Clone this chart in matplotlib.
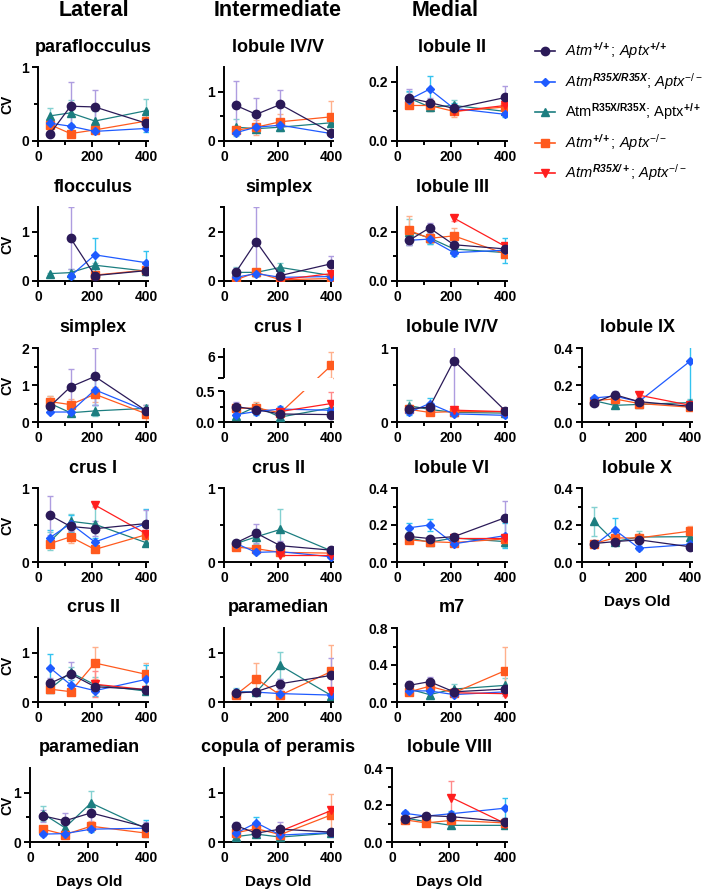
import numpy as np
import matplotlib
matplotlib.use("Agg")
import matplotlib.pyplot as plt
from matplotlib.lines import Line2D
from matplotlib.ticker import FixedLocator

plt.rcParams['font.family'] = ['Liberation Sans', 'DejaVu Sans']
plt.rcParams['mathtext.fontset'] = 'custom'
plt.rcParams['mathtext.rm'] = 'Liberation Sans:weight=normal'
plt.rcParams['mathtext.it'] = 'Liberation Sans:style=italic:weight=normal'
plt.rcParams['mathtext.bf'] = 'Liberation Sans:weight=bold'
plt.rcParams['mathtext.bfit'] = 'Liberation Sans:style=italic:weight=bold'

nan = np.nan
days = [45, 120, 210, 400]

genotypes = ['atm', 'aptx', 'dko', 'het', 'wt']  # draw order
legend_order = ['wt', 'dko', 'atm', 'aptx', 'het']
legend_labels = {
    'wt': r'$\mathit{Atm}^{\mathbfit{+/+}}$; $\mathit{Aptx}^{\mathbfit{+/+}}$',
    'dko': r'$\mathit{Atm}^{\mathbfit{R35X/R35X}}$; $\mathit{Aptx}^{\mathit{-/-}}$',
    'atm': r'Atm$^{\mathbf{R35X/R35X}}$; Aptx$^{\mathbf{+/+}}$',
    'aptx': r'$\mathit{Atm}^{\mathbfit{+/+}}$; $\mathit{Aptx}^{\mathit{-/-}}$',
    'het': r'$\mathit{Atm}^{\mathbfit{R35X/+}}$; $\mathit{Aptx}^{\mathit{-/-}}$',
}

# CV values and error bars, per genotype, keyed by panel
cv_wt = {
    'parafloc': [0.10, 0.47, 0.46, 0.24], 'floc': [nan, 0.87, 0.11, 0.21],
    'lat_simplex': [0.43, 0.95, 1.23, 0.30], 'lat_crus1': [0.63, 0.48, 0.45, 0.52],
    'lat_crus2': [0.38, 0.57, 0.31, 0.25], 'lat_paramed': [0.53, 0.43, 0.59, 0.30],
    'int_lob45': [0.72, 0.54, 0.74, 0.17], 'int_simplex': [0.37, 1.60, 0.22, 0.70],
    'int_crus1': [0.25, 0.20, 0.13, 0.12], 'int_crus2': [0.26, 0.39, 0.22, 0.16],
    'int_paramed': [0.18, 0.21, 0.37, 0.54], 'copula': [0.33, 0.18, 0.26, 0.20],
    'lob2': [0.145, 0.130, 0.110, 0.147], 'lob3': [0.165, 0.215, 0.147, 0.130],
    'med_lob45': [0.18, 0.20, 0.83, 0.15], 'lob6': [0.138, 0.127, 0.137, 0.240],
    'm7': [0.18, 0.22, 0.11, 0.14], 'lob8': [0.122, 0.143, 0.137, 0.110],
    'lob9': [0.105, 0.148, 0.110, 0.085], 'lob10': [0.100, 0.110, 0.120, 0.082],
}
err_wt = {
    'parafloc': [0.02, 0.33, 0.23, 0.05], 'floc': [nan, 0.63, 0.02, 0.05],
    'lat_simplex': [0.10, 0.48, 0.77, 0.15], 'lat_crus1': [0.26, 0.06, 0.10, 0.18],
    'lat_crus2': [0.10, 0.25, 0.10, 0.05], 'lat_paramed': [0.12, 0.16, 0.20, 0.10],
    'int_lob45': [0.49, 0.34, 0.30, 0.05], 'int_simplex': [0.15, 1.40, 0.10, 0.30],
    'int_crus1': [0.07, 0.05, 0.05, 0.03], 'int_crus2': [0.03, 0.13, 0.07, 0.03],
    'int_paramed': [0.05, 0.05, 0.10, 0.35], 'copula': [0.07, 0.05, 0.15, 0.05],
    'lob2': [0.030, 0.015, 0.010, 0.040], 'lob3': [0.020, 0.020, 0.015, 0.010],
    'med_lob45': [0.05, 0.05, 0.68, 0.02], 'lob6': [0.015, 0.010, 0.015, 0.090],
    'm7': [0.05, 0.05, 0.03, 0.03], 'lob8': [0.010, 0.015, 0.015, 0.020],
    'lob9': [0.010, 0.020, 0.015, 0.010], 'lob10': [0.010, 0.010, 0.020, 0.010],
}
cv_dko = {
    'parafloc': [0.24, 0.20, 0.13, 0.17], 'floc': [nan, 0.10, 0.53, 0.37],
    'lat_simplex': [0.27, 0.27, 0.87, 0.30], 'lat_crus1': [0.33, 0.52, 0.27, 0.52],
    'lat_crus2': [0.69, 0.35, 0.23, 0.46], 'lat_paramed': [0.16, 0.17, 0.26, 0.28],
    'int_lob45': [0.17, 0.28, 0.32, 0.15], 'int_simplex': [0.15, 0.30, 0.15, 0.18],
    'int_crus1': [0.12, 0.17, 0.21, 0.19], 'int_crus2': [0.25, 0.13, 0.14, 0.07],
    'int_paramed': [0.20, 0.20, 0.17, 0.14], 'copula': [0.18, 0.39, 0.14, 0.19],
    'lob2': [0.140, 0.175, 0.110, 0.090], 'lob3': [0.165, 0.170, 0.115, 0.125],
    'med_lob45': [0.13, 0.25, 0.11, 0.09], 'lob6': [0.185, 0.200, 0.098, 0.143],
    'm7': [0.12, 0.12, 0.08, 0.11], 'lob8': [0.155, 0.140, 0.153, 0.183],
    'lob9': [0.130, 0.140, 0.110, 0.330], 'lob10': [0.090, 0.175, 0.075, 0.095],
}
err_dko = {
    'parafloc': [0.03, 0.03, 0.02, 0.05], 'floc': [nan, 0.05, 0.35, 0.23],
    'lat_simplex': [0.03, 0.05, 0.40, 0.05], 'lat_crus1': [0.10, 0.12, 0.05, 0.20],
    'lat_crus2': [0.29, 0.10, 0.10, 0.30], 'lat_paramed': [0.03, 0.03, 0.05, 0.17],
    'int_lob45': [0.03, 0.05, 0.08, 0.03], 'int_simplex': [0.05, 0.10, 0.05, 0.05],
    'int_crus1': [0.03, 0.05, 0.05, 0.05], 'int_crus2': [0.03, 0.02, 0.02, 0.02],
    'int_paramed': [0.05, 0.05, 0.05, 0.05], 'copula': [0.03, 0.12, 0.03, 0.03],
    'lob2': [0.030, 0.045, 0.020, 0.010], 'lob3': [0.020, 0.020, 0.015, 0.050],
    'med_lob45': [0.03, 0.08, 0.02, 0.02], 'lob6': [0.025, 0.030, 0.010, 0.070],
    'm7': [0.02, 0.02, 0.02, 0.02], 'lob8': [0.015, 0.010, 0.015, 0.055],
    'lob9': [0.010, 0.020, 0.010, 0.210], 'lob10': [0.010, 0.065, 0.010, 0.010],
}
cv_atm = {
    'parafloc': [0.34, 0.38, 0.27, 0.41], 'floc': [0.15, 0.17, 0.32, 0.20],
    'lat_simplex': [0.50, 0.25, 0.30, 0.37], 'lat_crus1': [0.28, 0.55, 0.51, 0.26],
    'lat_crus2': [0.27, 0.60, 0.35, 0.22], 'lat_paramed': [0.57, 0.29, 0.79, 0.27],
    'int_lob45': [0.28, 0.25, 0.28, 0.37], 'int_simplex': [0.35, 0.35, 0.55, 0.22],
    'int_crus1': [0.10, 0.25, 0.08, 0.23], 'int_crus2': [0.25, 0.34, 0.44, 0.15],
    'int_paramed': [0.21, 0.20, 0.74, 0.13], 'copula': [0.11, 0.16, 0.10, 0.18],
    'lob2': [0.145, 0.115, 0.120, 0.100], 'lob3': [0.200, 0.175, 0.130, 0.115],
    'med_lob45': [0.22, 0.17, 0.13, 0.12], 'lob6': [0.130, 0.107, 0.130, 0.110],
    'm7': [0.14, 0.08, 0.14, 0.18], 'lob8': [0.130, 0.110, 0.090, 0.090],
    'lob9': [0.115, 0.090, 0.095, 0.105], 'lob10': [0.220, 0.110, 0.135, 0.137],
}
err_atm = {
    'parafloc': [0.10, 0.17, 0.13, 0.16], 'floc': [0.02, 0.08, 0.05, 0.05],
    'lat_simplex': [0.20, 0.05, 0.15, 0.10], 'lat_crus1': [0.12, 0.10, 0.25, 0.05],
    'lat_crus2': [0.05, 0.10, 0.15, 0.05], 'lat_paramed': [0.15, 0.10, 0.24, 0.10],
    'int_lob45': [0.17, 0.05, 0.07, 0.05], 'int_simplex': [0.20, 0.15, 0.20, 0.05],
    'int_crus1': [0.03, 0.05, 0.03, 0.08], 'int_crus2': [0.05, 0.10, 0.28, 0.03],
    'int_paramed': [0.08, 0.05, 0.28, 0.03], 'copula': [0.03, 0.03, 0.03, 0.03],
    'lob2': [0.020, 0.015, 0.020, 0.010], 'lob3': [0.050, 0.025, 0.010, 0.010],
    'med_lob45': [0.08, 0.03, 0.02, 0.02], 'lob6': [0.020, 0.010, 0.010, 0.030],
    'm7': [0.03, 0.02, 0.06, 0.08], 'lob8': [0.010, 0.010, 0.010, 0.010],
    'lob9': [0.010, 0.010, 0.010, 0.020], 'lob10': [0.080, 0.020, 0.030, 0.020],
}
cv_aptx = {
    'parafloc': [0.22, 0.10, 0.15, 0.27], 'floc': [nan, nan, 0.12, 0.22],
    'lat_simplex': [0.55, 0.47, 0.75, 0.22], 'lat_crus1': [0.25, 0.34, 0.17, 0.37],
    'lat_crus2': [0.26, 0.21, 0.79, 0.56], 'lat_paramed': [0.26, 0.15, 0.32, 0.18],
    'int_lob45': [0.22, 0.28, 0.39, 0.49], 'int_simplex': [0.05, 0.35, 0.05, 0.10],
    'int_crus1': [0.22, 0.23, 0.15, 5.60], 'int_crus2': [0.20, 0.18, 0.13, 0.12],
    'int_paramed': [0.15, 0.47, 0.14, 0.62], 'copula': [0.19, 0.27, 0.15, 0.55],
    'lob2': [0.120, 0.120, 0.100, 0.115], 'lob3': [0.205, 0.173, 0.183, 0.110],
    'med_lob45': [0.17, 0.13, 0.14, 0.14], 'lob6': [0.120, 0.110, 0.105, 0.125],
    'm7': [0.11, 0.17, 0.10, 0.34], 'lob8': [0.120, 0.103, 0.117, 0.103],
    'lob9': [0.115, 0.125, 0.100, 0.080], 'lob10': [0.100, 0.130, 0.130, 0.167],
}
err_aptx = {
    'parafloc': [0.03, 0.02, 0.02, 0.06], 'floc': [nan, nan, 0.02, 0.05],
    'lat_simplex': [0.15, 0.15, 0.20, 0.25], 'lat_crus1': [0.03, 0.08, 0.04, 0.05],
    'lat_crus2': [0.05, 0.03, 0.32, 0.23], 'lat_paramed': [0.07, 0.04, 0.10, 0.05],
    'int_lob45': [0.05, 0.15, 0.16, 0.32], 'int_simplex': [0.03, 0.10, 0.03, 0.05],
    'int_crus1': [0.05, 0.10, 0.05, 0.60], 'int_crus2': [0.03, 0.03, 0.03, 0.03],
    'int_paramed': [0.05, 0.32, 0.05, 0.53], 'copula': [0.03, 0.05, 0.05, 0.43],
    'lob2': [0.010, 0.020, 0.020, 0.015], 'lob3': [0.060, 0.020, 0.030, 0.010],
    'med_lob45': [0.03, 0.02, 0.02, 0.02], 'lob6': [0.010, 0.010, 0.010, 0.010],
    'm7': [0.02, 0.03, 0.02, 0.25], 'lob8': [0.010, 0.010, 0.010, 0.010],
    'lob9': [0.010, 0.010, 0.010, 0.010], 'lob10': [0.010, 0.020, 0.020, 0.030],
}
cv_het = {
    'lat_crus1': [nan, nan, 0.77, 0.38], 'lat_crus2': [nan, nan, 0.36, 0.25],
    'int_simplex': [nan, nan, 0.05, 0.30], 'int_crus1': [nan, nan, 0.17, 0.30],
    'int_crus2': [nan, nan, 0.10, 0.10], 'int_paramed': [nan, nan, nan, 0.22],
    'copula': [nan, nan, 0.22, 0.64], 'lob2': [nan, nan, 0.100, 0.120],
    'lob3': [nan, nan, 0.255, 0.140], 'med_lob45': [nan, nan, 0.16, 0.14],
    'lob6': [nan, nan, 0.13, 0.13], 'm7': [nan, nan, 0.10, 0.09],
    'lob8': [nan, nan, 0.24, 0.10], 'lob9': [nan, nan, 0.145, 0.090],
}
err_het = {
    'lat_crus1': [nan, nan, 0.03, 0.05], 'lat_crus2': [nan, nan, 0.26, 0.05],
    'int_simplex': [nan, nan, 0.05, 0.10], 'int_crus1': [nan, nan, 0.03, 0.18],
    'int_crus2': [nan, nan, 0.02, 0.02], 'int_paramed': [nan, nan, nan, 0.05],
    'copula': [nan, nan, 0.05, 0.05], 'lob2': [nan, nan, 0.010, 0.010],
    'lob3': [nan, nan, 0.010, 0.010], 'med_lob45': [nan, nan, 0.02, 0.02],
    'lob6': [nan, nan, 0.01, 0.01], 'm7': [nan, nan, 0.02, 0.02],
    'lob8': [nan, nan, 0.09, 0.01], 'lob9': [nan, nan, 0.01, 0.01],
}
cv = {'wt': cv_wt, 'dko': cv_dko, 'atm': cv_atm, 'aptx': cv_aptx, 'het': cv_het}
err = {'wt': err_wt, 'dko': err_dko, 'atm': err_atm, 'aptx': err_aptx, 'het': err_het}

styles = {
    'wt': dict(color='#2B1A58', marker='o', ms=6, ecolor='#AE9DE0'),
    'dko': dict(color='#1F5BFF', marker='D', ms=4.2, ecolor='#33C3F0'),
    'atm': dict(color='#1C7E80', marker='^', ms=6, ecolor='#84D1D1'),
    'aptx': dict(color='#FF5A1E', marker='s', ms=5.5, ecolor='#FFB08C'),
    'het': dict(color='#FF1E1E', marker='v', ms=6, ecolor='#FF8A8A'),
}

column_titles = ['Lateral', 'Intermediate', 'Medial']
# key, title, column, row
panels = [
    ('parafloc', 'paraflocculus', 0, 0), ('floc', 'flocculus', 0, 1),
    ('lat_simplex', 'simplex', 0, 2), ('lat_crus1', 'crus I', 0, 3),
    ('lat_crus2', 'crus II', 0, 4), ('lat_paramed', 'paramedian', 0, 5),
    ('int_lob45', 'lobule IV/V', 1, 0), ('int_simplex', 'simplex', 1, 1),
    ('int_crus1', 'crus I', 1, 2), ('int_crus2', 'crus II', 1, 3),
    ('int_paramed', 'paramedian', 1, 4), ('copula', 'copula of peramis', 1, 5),
    ('lob2', 'lobule II', 2, 0), ('lob3', 'lobule III', 2, 1),
    ('med_lob45', 'lobule IV/V', 2, 2), ('lob6', 'lobule VI', 2, 3),
    ('m7', 'm7', 2, 4), ('lob8', 'lobule VIII', 2, 5),
    ('lob9', 'lobule IX', 3, 2), ('lob10', 'lobule X', 3, 3),
]
# y axis: top, major ticks, minor ticks, label format
yconf = {
    'parafloc': (1, [0, 1], [0.5], '%g'), 'floc': (1.5, [0, 1], [0.5], '%g'),
    'lat_simplex': (2, [0, 1, 2], [0.5, 1.5], '%g'), 'lat_crus1': (1, [0, 1], [0.5], '%g'),
    'lat_crus2': (1.5, [0, 1], [0.5], '%g'), 'lat_paramed': (1.5, [0, 1], [0.5], '%g'),
    'int_lob45': (1.5, [0, 1], [0.5], '%g'), 'int_simplex': (3, [0, 2], [1, 3], '%g'),
    'int_crus2': (1, [0, 1], [0.5], '%g'), 'int_paramed': (1.5, [0, 1], [0.5], '%g'),
    'copula': (1.5, [0, 1], [0.5], '%g'),
    'lob2': (0.25, [0, 0.2], [0.1], '%.1f'), 'lob3': (0.3, [0, 0.2], [0.1], '%.1f'),
    'med_lob45': (1, [0, 1], [0.5], '%g'), 'lob6': (0.4, [0, 0.2, 0.4], [0.1, 0.3], '%.1f'),
    'm7': (0.8, [0, 0.4, 0.8], [0.2, 0.6], '%.1f'), 'lob8': (0.4, [0, 0.2, 0.4], [0.1, 0.3], '%.1f'),
    'lob9': (0.4, [0, 0.2, 0.4], [0.1, 0.3], '%.1f'), 'lob10': (0.4, [0, 0.2, 0.4], [0.1, 0.3], '%.1f'),
}
xstart = {'lat_paramed': 26, 'lob8': 10, 'lob9': 34, 'lob10': 34}

W, H = 708, 891
fig = plt.figure(figsize=(W / 100, H / 100), dpi=100)

row_top = [67, 207, 348, 488, 628, 768]
ax_h = 74
col_lr = {0: (38, 148), 1: (224, 333), 2: (397, 507), 3: (582, 692)}
col_lr_last = {0: (30, 148), 1: (224, 333), 2: (392, 507)}


def fx(px):
    return px / W


def fy(py):
    return 1 - py / H


# broken y axis for intermediate crus I
def brk_fwd(y):
    y = np.asarray(y, float)
    return np.where(y <= 0.5, y, np.where(y >= 5, 0.707 + (y - 5) * 0.353,
                                          0.5 + (y - 0.5) * 0.046))


def brk_inv(u):
    u = np.asarray(u, float)
    return np.where(u <= 0.5, u, np.where(u >= 0.707, 5 + (u - 0.707) / 0.353,
                                          0.5 + (u - 0.5) / 0.046))


for key, title, col, row in panels:
    l, r = (col_lr_last if row == 5 else col_lr)[col]
    t = row_top[row]
    ax = fig.add_axes([fx(l), fy(t + ax_h), (r - l) / W, ax_h / H])

    for g in genotypes:
        if key not in cv[g]:
            continue
        st = styles[g]
        ax.errorbar(days, cv[g][key], yerr=err[g][key], fmt='none',
                    ecolor=st['ecolor'], elinewidth=1, capsize=2.5, capthick=1, zorder=2)
    for i, g in enumerate(genotypes):
        if key not in cv[g]:
            continue
        st = styles[g]
        ax.plot(days, cv[g][key], color=st['color'], lw=0.9, marker=st['marker'],
                ms=st['ms'], mec=st['color'], mfc=st['color'], zorder=3 + i)

    ax.set_xlim(xstart.get(key, 0), 406)
    ax.set_xticks([0, 200, 400])
    ax.xaxis.set_minor_locator(FixedLocator([100, 300]))

    if key == 'int_crus1':
        ax.set_yscale('function', functions=(brk_fwd, brk_inv))
        ax.set_ylim(0, 6.4)
        ax.set_yticks([0, 0.5, 5, 6])
        ax.set_yticklabels(['0.0', '0.5', '', '6'])
        ax.yaxis.set_minor_locator(FixedLocator([0.25]))
        ax.axhspan(0.5, 5, color='white', zorder=10, lw=0)
        ax.spines['left'].set_visible(False)
        for a, b in [(0, 0.5), (5, 6.4)]:
            ax.plot([0, 0], [a, b], transform=ax.get_yaxis_transform(), color='black',
                    lw=1.4, clip_on=False, zorder=11, solid_capstyle='butt')
    else:
        top, major, minor, fmt = yconf[key]
        ax.set_ylim(0, top)
        ax.set_yticks(major)
        ax.set_yticklabels([fmt % v for v in major])
        ax.yaxis.set_minor_locator(FixedLocator(minor))

    for s in ['top', 'right']:
        ax.spines[s].set_visible(False)
    for s in ['left', 'bottom']:
        ax.spines[s].set_linewidth(1.4)
    ax.tick_params(which='major', direction='out', length=4, width=1.4,
                   labelsize=10, pad=2.5)
    ax.tick_params(which='minor', direction='out', length=3, width=1.4)
    for lab in ax.get_xticklabels() + ax.get_yticklabels():
        lab.set_fontweight('bold')

    cx = (l + r) / 2
    fig.text(fx(cx), fy(t - 20), title, ha='center', va='center',
             fontsize=13, fontweight='bold')
    if col == 0:
        fig.text(fx(7), fy(t + ax_h / 2), 'CV', rotation=90, ha='center',
                 va='center', fontsize=10, fontweight='bold')
    if row == 5 or key == 'lob10':
        fig.text(fx(cx), fy(t + ax_h + 40), 'Days Old', ha='center', va='center',
                 fontsize=11, fontweight='bold')

for name, cxp in zip(column_titles, [94, 278, 445]):
    fig.text(fx(cxp), fy(10), name, ha='center', va='center',
             fontsize=15.5, fontweight='bold')

# legend
for i, g in enumerate(legend_order):
    st = styles[g]
    yy = fy(51 + 30.5 * i)
    fig.add_artist(Line2D([fx(535), fx(555)], [yy, yy], transform=fig.transFigure,
                          color=st['color'], lw=1.2))
    fig.add_artist(Line2D([fx(545)], [yy], transform=fig.transFigure, color=st['color'],
                          marker=st['marker'], ms=st['ms'], lw=0))
    fig.text(fx(565), yy, legend_labels[g], ha='left', va='center', fontsize=10.5,
             fontweight='normal')

fig.savefig('out.png', dpi=100)
